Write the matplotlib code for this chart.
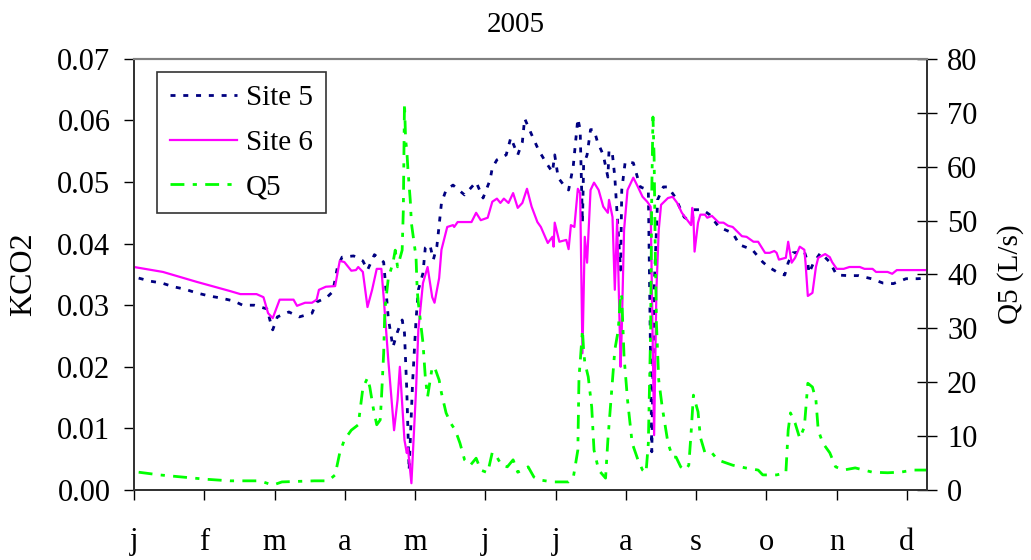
import numpy as np
import matplotlib
matplotlib.use('Agg')
import matplotlib.pyplot as plt

plt.rcParams['font.family'] = ['Liberation Serif', 'DejaVu Serif']

# month labels at the start of each month (day of year)
months = ['j', 'f', 'm', 'a', 'm', 'j', 'j', 'a', 's', 'o', 'n', 'd']
month_days = [i * 30.4 for i in range(12)]

# Site 5 KCO2
site5_day = [2, 7, 12, 17, 22, 27, 32.5, 37, 43, 47, 52, 57.5, 59, 60, 62, 67, 71.5, 77, 79, 83.5,
             86, 88, 90, 95, 99, 101, 104, 108, 110, 112, 114, 116, 117, 118, 119, 120.5, 122, 123,
             125, 126, 128, 129.5, 131, 132, 133, 135, 138, 143, 148, 151, 154, 155, 157, 161, 163,
             166, 168, 169, 172, 175, 178, 181, 182, 183.5, 186.5, 188, 190, 192, 193, 194, 194.5,
             196, 197.5, 199, 200.5, 203, 205, 205.5, 207, 208, 210.5, 211, 212.5, 216, 219, 222.5,
             224, 225, 226.5, 229, 231, 234, 238, 241.5, 242, 246, 249, 253, 259, 262, 267.5, 272,
             274.5, 279, 281.5, 283, 285, 290, 291.5, 292, 294, 297, 301, 304, 309, 313.5, 319, 324,
             328.5, 334, 339, 343]
site5_k = [0.0344, 0.0339, 0.0336, 0.0330, 0.0326, 0.0320, 0.0315, 0.0312, 0.0307, 0.0300, 0.0300,
           0.0294, 0.0273, 0.0260, 0.0281, 0.0289, 0.0281, 0.0287, 0.0305, 0.0313, 0.0322, 0.0362,
           0.0378, 0.0380, 0.0372, 0.0357, 0.0382, 0.0370, 0.0279, 0.0232, 0.0257, 0.0276, 0.0255,
           0.0162, 0.0032, 0.0174, 0.0276, 0.0325, 0.0352, 0.0393, 0.0398, 0.0374, 0.0395, 0.0430,
           0.0466, 0.0487, 0.0495, 0.0479, 0.0500, 0.0474, 0.0503, 0.0523, 0.0536, 0.0544, 0.0572,
           0.0544, 0.0565, 0.0603, 0.0577, 0.0552, 0.0533, 0.0516, 0.0544, 0.0507, 0.0492, 0.0487,
           0.0525, 0.0603, 0.0585, 0.0434, 0.0528, 0.0544, 0.0585, 0.0585, 0.0565, 0.0544, 0.0508,
           0.0552, 0.0544, 0.0508, 0.0357, 0.0487, 0.0533, 0.0531, 0.0492, 0.0487, 0.0062, 0.0325,
           0.0471, 0.0492, 0.0492, 0.0476, 0.0443, 0.0434, 0.0455, 0.0455, 0.0447, 0.0427, 0.0417,
           0.0398, 0.0390, 0.0370, 0.0362, 0.0352, 0.0349, 0.0369, 0.0385, 0.0387, 0.0369, 0.0352,
           0.0369, 0.0385, 0.0370, 0.0349, 0.0348, 0.0348, 0.0343, 0.0336, 0.0335, 0.0343, 0.0343,
           0.0344]

# Site 6 KCO2
site6_day = [0, 12.5, 27, 41.5, 46, 53, 56, 58, 60, 63, 69, 70.5, 74, 77, 79, 80, 83, 87, 89, 91,
             94, 96, 97, 99, 101, 103, 105, 107, 108, 110, 112.5, 114, 115, 117, 118, 118.5, 120,
             122, 123, 125, 127, 129, 130, 132, 133, 135.5, 138, 138.5, 140, 146, 148, 150, 153,
             155, 157, 158.5, 160, 162, 164, 166, 168, 170, 172, 174.5, 176, 179, 181, 181.5, 182,
             184, 187, 188, 189, 190.5, 192, 193, 194, 195, 196, 197.5, 199, 201, 203, 205, 205.5,
             207, 208, 209, 210.5, 211, 212, 213.5, 216, 218, 220, 222, 223.5, 225, 226, 227, 228,
             231, 233, 235, 237, 240, 241, 241.5, 242, 242.5, 244, 245, 247, 248, 250, 253, 255,
             257, 259, 263, 265, 268, 270, 273, 275, 277, 278, 279, 282, 283, 284.5, 286, 288, 290,
             290.5, 291.5, 293.5, 295, 296, 299, 301, 302, 304, 307, 309.5, 314, 316, 319.5, 321,
             326, 328, 330, 343]
site6_k = [0.0362, 0.0354, 0.0338, 0.0323, 0.0318, 0.0318, 0.0313, 0.0287, 0.0279, 0.0309, 0.0309,
           0.0299, 0.0304, 0.0304, 0.0309, 0.0325, 0.0330, 0.0331, 0.0372, 0.0370, 0.0356, 0.0357,
           0.0362, 0.0354, 0.0297, 0.0325, 0.0359, 0.0359, 0.0313, 0.0211, 0.0097, 0.0146, 0.0200,
           0.0081, 0.0060, 0.0068, 0.0011, 0.0162, 0.0260, 0.0336, 0.0362, 0.0313, 0.0304, 0.0344,
           0.0390, 0.0427, 0.0430, 0.0427, 0.0435, 0.0435, 0.0450, 0.0438, 0.0442, 0.0468, 0.0473,
           0.0466, 0.0473, 0.0466, 0.0482, 0.0458, 0.0466, 0.0489, 0.0460, 0.0435, 0.0427, 0.0401,
           0.0411, 0.0395, 0.0434, 0.0403, 0.0406, 0.0391, 0.0430, 0.0427, 0.0489, 0.0482, 0.0222,
           0.0411, 0.0369, 0.0487, 0.0499, 0.0487, 0.0460, 0.0450, 0.0471, 0.0443, 0.0325, 0.0438,
           0.0200, 0.0260, 0.0422, 0.0487, 0.0507, 0.0492, 0.0476, 0.0468, 0.0460, 0.0089, 0.0325,
           0.0422, 0.0463, 0.0474, 0.0476, 0.0466, 0.0450, 0.0435, 0.0430, 0.0458, 0.0443, 0.0387,
           0.0434, 0.0447, 0.0447, 0.0442, 0.0445, 0.0434, 0.0434, 0.0429, 0.0427, 0.0412, 0.0411,
           0.0403, 0.0403, 0.0385, 0.0385, 0.0388, 0.0385, 0.0374, 0.0377, 0.0403, 0.0369, 0.0377,
           0.0395, 0.0390, 0.0369, 0.0315, 0.0320, 0.0362, 0.0377, 0.0383, 0.0378, 0.0370, 0.0359,
           0.0359, 0.0362, 0.0362, 0.0359, 0.0359, 0.0354, 0.0354, 0.0351, 0.0357, 0.0357]

# Q5 discharge (L/s)
q5_day = [2, 11, 21, 31, 41.5, 54.5, 60, 64, 78, 84, 87, 89, 91, 94, 97, 99, 101, 102, 103.5, 105,
          106.5, 107, 108, 108.5, 110, 112, 113, 114, 116, 116.5, 117, 117.5, 118, 118.5, 119.5,
          120, 122, 122.5, 123, 125, 126, 127, 129, 130, 132, 133, 135, 137, 139, 141, 143, 145.5,
          148, 150, 153, 155, 157, 159, 161.5, 164, 166, 168, 170.5, 173, 175, 181, 188, 190, 192,
          192.5, 193, 194, 194.5, 195, 196.5, 198, 199, 201, 204, 205, 207, 208, 209.5, 210.5, 211,
          212, 213.5, 215.5, 218, 220, 221.5, 222.5, 223.5, 224, 224.5, 225, 225.5, 226, 227,
          228.5, 231, 233, 234.5, 236.5, 238.5, 240, 241, 242, 244, 245, 247, 250, 252.5, 255, 259,
          264.5, 270, 272, 278, 282, 283, 284, 286, 288, 290, 291.5, 293.5, 295, 296, 298, 301,
          303.5, 307, 312, 319.5, 326, 331.5, 337, 343]
q5_flow = [3.3, 2.8, 2.4, 2.0, 1.7, 1.7, 0.9, 1.5, 1.7, 1.7, 2.8, 6.9, 9.3, 11.1, 12.1, 18.9, 20.8,
           19.1, 15.2, 12.1, 13.0, 16.7, 25.4, 33.4, 39.3, 42.1, 44.5, 41.4, 44.5, 51.9, 71.8, 64.9,
           63.1, 59.4, 53.8, 49.5, 43.2, 37.1, 34.7, 27.3, 21.0, 17.3, 22.8, 22.8, 20.4, 18.0, 14.3,
           12.4, 11.1, 8.7, 5.6, 4.6, 5.9, 3.7, 3.2, 7.0, 6.1, 4.6, 4.3, 5.6, 3.3, 3.7, 4.3, 2.4, 1.9,
           1.5, 1.5, 2.2, 7.4, 21.0, 23.6, 29.7, 26.0, 23.7, 21.0, 15.4, 7.4, 3.7, 2.2, 9.3, 20.4,
           26.0, 29.7, 36.5, 35.8, 24.7, 16.7, 8.7, 5.6, 3.7, 3.2, 8.7, 29.7, 55.7, 69.2, 61.8, 44.5,
           31.0, 20.4, 15.4, 8.7, 6.1, 6.1, 4.3, 3.7, 4.6, 10.6, 17.6, 14.5, 9.8, 6.9, 6.9, 5.6, 5.2,
           4.6, 4.1, 3.7, 2.8, 2.8, 3.2, 11.1, 14.3, 12.4, 9.6, 11.7, 19.8, 19.1, 16.7, 11.1, 8.7,
           6.9, 4.3, 3.7, 4.1, 3.3, 3.2, 3.3, 3.7, 3.7]

fig = plt.figure(figsize=(10.31, 5.6), dpi=100)
ax = fig.add_axes([0.130, 0.125, 0.769, 0.770])
ax2 = ax.twinx()

l5, = ax.plot(site5_day, site5_k, color='#000080', lw=2.0, linestyle=(0, (1.8, 2.8)), label='Site 5')
l6, = ax.plot(site6_day, site6_k, color='#FF00FF', lw=1.6, label='Site 6')
lq, = ax2.plot(q5_day, q5_flow, color='#00FF00', lw=2.0, linestyle=(0, (5, 3, 1.5, 3)), label='Q5')

ax.set_xlim(0, 343)
ax.set_ylim(0, 0.07)
ax2.set_ylim(0, 80)
ax.set_yticks(np.arange(0, 0.0701, 0.01))
ax.set_yticklabels(['%.2f' % v for v in np.arange(0, 0.0701, 0.01)])
ax2.set_yticks(range(0, 81, 10))
ax.set_xticks(month_days)
ax.set_xticklabels(months)

ax.tick_params(axis='y', direction='out', length=7, width=1, labelsize=22, pad=10)
ax.tick_params(axis='x', direction='out', length=7, width=1, labelsize=22, pad=20)
ax2.tick_params(axis='y', direction='inout', length=15, width=1, labelsize=22, pad=7)

for a in (ax, ax2):
    a.spines['top'].set_color('#808080')
    a.spines['top'].set_linewidth(1.5)
    for s in ('left', 'right', 'bottom'):
        a.spines[s].set_color('#333333')
        a.spines[s].set_linewidth(1.3)

ax.set_ylabel('KCO2', fontsize=23, labelpad=14)
ax2.set_ylabel('Q5 (L/s)', fontsize=21, labelpad=14)
fig.text(0.5, 1 - 25 / 560, '2005', fontsize=21, ha='center', va='center')

leg = ax.legend(handles=[l5, l6, lq], loc='upper left', bbox_to_anchor=(0.029, 0.97),
                fontsize=21, frameon=True, fancybox=False, handlelength=2.3,
                handletextpad=0.3, labelspacing=0.62, borderpad=0.45, borderaxespad=0)
leg.get_frame().set_edgecolor('black')
leg.get_frame().set_linewidth(1.2)

fig.savefig('out.png', dpi=100)
